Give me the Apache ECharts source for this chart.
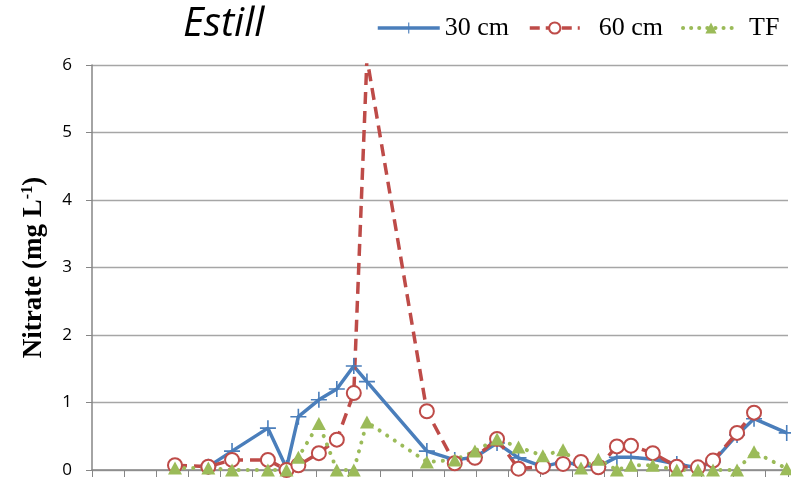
<!DOCTYPE html>
<html><head><meta charset="utf-8">
<script src="https://cdn.jsdelivr.net/npm/echarts@6/dist/echarts.min.js"></script>
<style>html,body{margin:0;padding:0;background:#fff}#c{width:791px;height:480px}</style>
</head><body><div id="c"></div>
<script>
// Sampling positions along the x axis (in tick units, one tick per month)
const samplePos = [2.59, 3.63, 4.37, 5.49, 6.07, 6.44, 7.08, 7.64, 8.17, 8.58, 10.45, 11.32, 11.95, 12.64, 13.31, 14.07, 14.70, 15.26, 15.80, 16.38, 16.82, 17.50, 18.25, 18.91, 19.38, 20.13, 20.66, 21.68];
const nitrate30 = [null, 0.05, 0.28, 0.62, 0.03, 0.79, 1.04, 1.20, 1.54, 1.31, 0.28, 0.15, 0.19, 0.40, 0.18, 0.05, 0.12, 0.07, 0.05, 0.19, 0.19, 0.16, 0.09, 0.03, 0.12, 0.52, 0.76, 0.55];
const nitrate60 = [0.07, 0.05, 0.15, 0.15, 0.00, 0.07, 0.25, 0.45, 1.14, 6.10, 0.87, 0.10, 0.18, 0.46, 0.02, 0.05, 0.09, 0.12, 0.04, 0.35, 0.36, 0.25, 0.05, 0.04, 0.14, 0.55, 0.85, null];
const nitrateTF = [0.03, 0.03, 0.00, 0.00, 0.00, 0.19, 0.69, 0.00, 0.00, 0.71, 0.12, 0.15, 0.28, 0.46, 0.34, 0.21, 0.30, 0.03, 0.16, 0.00, 0.07, 0.07, 0.00, 0.00, 0.00, 0.00, 0.27, 0.02];
const seriesNames = ['30 cm', '60 cm', 'TF'];
const yTicks = [0, 1, 2, 3, 4, 5, 6];
const xMax = 21.72;

const pair = arr => samplePos.map((x, i) => [x, arr[i]]);
const plus = 'path://M9,0h2v9h9v2h-9v9h-2v-9h-9v-2h9z';

const chart = echarts.init(document.getElementById('c'), null, {renderer: 'canvas'});
const legendText = {fontFamily: 'Liberation Serif', fontSize: 26, color: '#000'};
chart.setOption({
  animation: false,
  title: {
    text: 'Estill', left: 178, top: 0,
    textStyle: {fontFamily: 'Open Sans', fontStyle: 'italic', fontWeight: 'normal', fontSize: 40, color: '#000'}
  },
  legend: [
    {data: [seriesNames[0]], left: 371, top: 10, itemWidth: 62, itemHeight: 14, textStyle: legendText,
     lineStyle: {width: 3.5}},
    {data: [seriesNames[1]], left: 523, top: 10, itemWidth: 50, itemHeight: 14, textStyle: Object.assign({padding: [0, 0, 0, 14]}, legendText),
     lineStyle: {width: 3.5, type: [10, 6]}},
    {data: [seriesNames[2]], left: 676, top: 10, itemWidth: 56, itemHeight: 14, textStyle: Object.assign({padding: [0, 0, 0, 5]}, legendText),
     lineStyle: {width: 4, type: [0.1, 8], cap: 'round'}}
  ],
  grid: {left: 92, top: 65, right: 3, bottom: 10, containLabel: false},
  xAxis: {
    type: 'value', min: 0, max: xMax, interval: 1,
    axisLine: {show: true, lineStyle: {color: '#868686', width: 1.5}},
    axisTick: {show: true, length: 7, lineStyle: {color: '#868686', width: 1}},
    axisLabel: {show: false},
    splitLine: {show: false}
  },
  yAxis: {
    type: 'value', min: yTicks[0], max: yTicks[yTicks.length - 1], interval: 1,
    name: '{a|Nitrate (mg L}{b|-1}{a|)}',
    nameLocation: 'middle', nameRotate: 90, nameGap: 44,
    nameTextStyle: {
      rich: {
        a: {fontFamily: 'Liberation Serif', fontWeight: 'bold', fontSize: 27, color: '#000'},
        b: {fontFamily: 'Liberation Serif', fontWeight: 'bold', fontSize: 16, color: '#000', verticalAlign: 'top', padding: [0, 0, 12, 0]}
      }
    },
    axisLine: {show: true, lineStyle: {color: '#868686', width: 1.5}},
    axisTick: {show: true, length: 6, lineStyle: {color: '#868686'}},
    axisLabel: {margin: 20, fontFamily: 'Open Sans', fontSize: 17, color: '#000'},
    splitLine: {show: true, lineStyle: {color: '#A6A6A6', width: 1.3}}
  },
  series: [
    {
      name: seriesNames[0], type: 'line', data: pair(nitrate30),
      symbol: plus, symbolSize: 16,
      itemStyle: {color: '#4A7EBB'},
      lineStyle: {color: '#4A7EBB', width: 3.5}
    },
    {
      name: seriesNames[1], type: 'line', data: pair(nitrate60),
      symbol: 'emptyCircle', symbolSize: 14,
      itemStyle: {color: '#BE4B48', borderColor: '#BE4B48', borderWidth: 1.3},
      lineStyle: {color: '#BE4B48', width: 3.5, type: [12, 7]}
    },
    {
      name: seriesNames[2], type: 'line', data: pair(nitrateTF),
      symbol: 'triangle', symbolSize: [14, 13],
      itemStyle: {color: '#9BBB59'},
      lineStyle: {color: '#9BBB59', width: 4, type: [0.1, 9], cap: 'round'}
    }
  ]
});
</script>
</body></html>
